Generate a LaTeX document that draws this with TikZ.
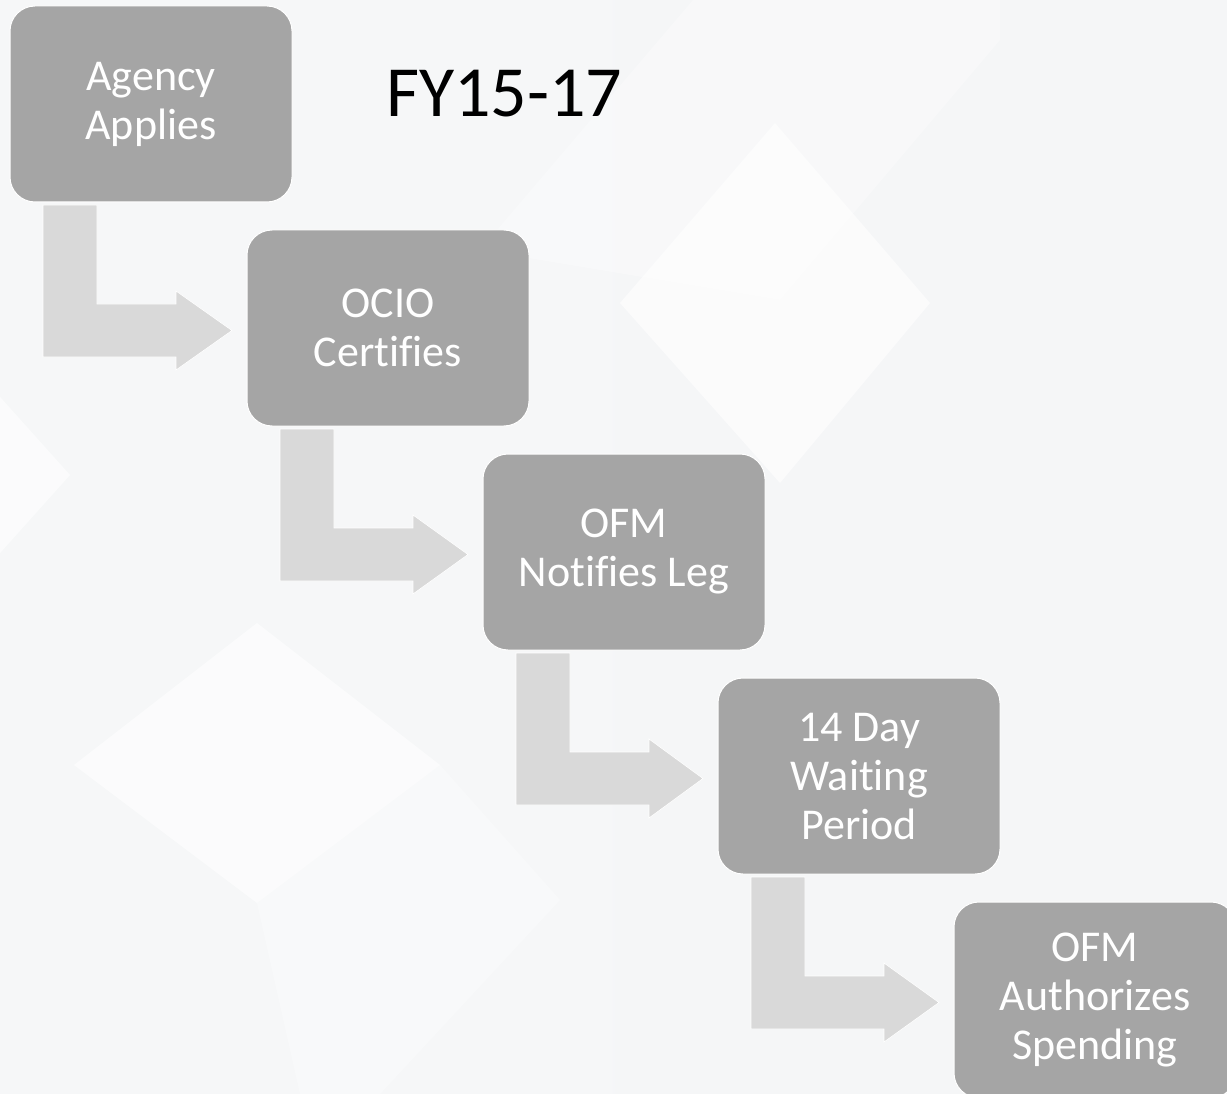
\documentclass[tikz,border=0pt]{standalone}
\usepackage{fontspec}
\setmainfont{Carlito}[Ligatures=NoCommon]
\usetikzlibrary{calc}
\definecolor{boxgray}{HTML}{A5A5A5}
\definecolor{arrgray}{HTML}{D9D9D9}
\definecolor{bgA}{HTML}{F6F7F8}
\definecolor{bgB}{HTML}{F5F6F7}
\begin{document}
\begin{tikzpicture}[x=1pt,y=-1pt,
  stepbox/.style={draw=white, line width=1pt, fill=boxgray, rounded corners=25pt,
    minimum width=282pt, minimum height=196pt, inner sep=0pt, outer sep=0pt,
    anchor=north west, text=white, align=center, font=\fontsize{44}{49}\selectfont},
  bent/.style={fill=arrgray, draw=white, line width=0.6pt},
  bgdiamond/.style={fill=white, opacity=0.6}]
\useasboundingbox (0,0) rectangle (1227,1094);
% background
\shade[left color=bgA, right color=bgB] (0,0) rectangle (1227,1094);
\fill[bgdiamond] (620,303) -- (775,123) -- (930,303) -- (780,483) -- cycle;
\fill[bgdiamond] (74,765) -- (257,623) -- (440,765) -- (257,903) -- cycle;
\fill[bgdiamond] (-190,475) -- (-60,330) -- (70,475) -- (-60,620) -- cycle;
\fill[white, opacity=0.3] (480,250) -- (693,0) -- (1000,0) -- (1000,40) -- (780,300) -- cycle;
\fill[white, opacity=0.3] (257,903) -- (440,765) -- (560,900) -- (380,1094) -- (300,1094) -- cycle;
% boxes
\node[stepbox] (b1) at (10,6)   {Agency\\Applies};
\node[stepbox] (b2) at (247,230) {OCIO\\Certifies};
\node[stepbox] (b3) at (483,454) {OFM\\Notifies Leg};
\node[stepbox] (b4) at (718,678) {14 Day\\Waiting\\Period};
\node[stepbox] (b5) at (954,902) {OFM\\Authorizes\\Spending};
% title
\node[anchor=base west, inner sep=0pt, font=\fontsize{72}{80}\selectfont] (title) at (386,117) {FY15-17};
% bent arrows
\foreach \a/\b in {b1/b2,b2/b3,b3/b4,b4/b5} {
  \fill[bent] ($(\a.north west)+(33,199)$) -- ($(\a.north west)+(87,199)$)
    -- ($(\a.north west)+(87,298)$) -- ($(\a.north west)+(166,298)$)
    -- ($(\a.north west)+(166,285)$) -- ($(\b.north west)+(-15,100.5)$)
    -- ($(\a.north west)+(166,364)$) -- ($(\a.north west)+(166,351)$)
    -- ($(\a.north west)+(33,351)$) -- cycle;
}
\end{tikzpicture}
\end{document}
